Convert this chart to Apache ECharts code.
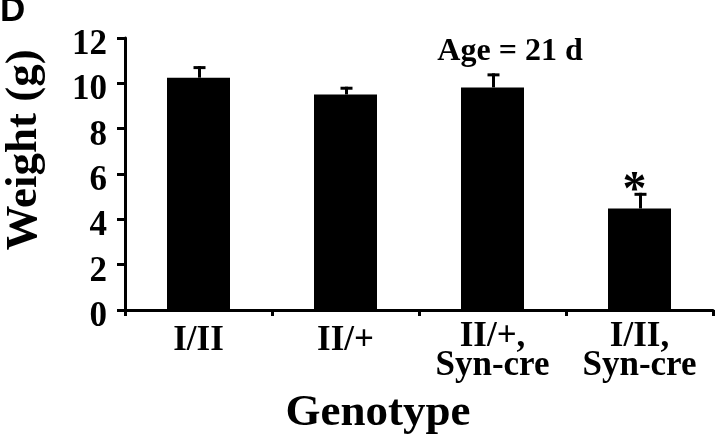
<!DOCTYPE html>
<html>
<head>
<meta charset="utf-8">
<script src="https://cdn.jsdelivr.net/npm/echarts@6/dist/echarts.min.js"></script>
<style>html,body{margin:0;padding:0;background:#fff}#c{width:720px;height:436px}</style>
</head>
<body>
<div id="c"></div>
<script>
var categories = ['I/II', 'II/+', 'II/+,\nSyn-cre', 'I/II,\nSyn-cre'];
var weights = [10.25, 9.51, 9.82, 4.48];
var errors = [0.51, 0.34, 0.62, 0.69];
var marks = ['', '', '', '*'];
var yTicks = [0, 2, 4, 6, 8, 10, 12];

var serif = '"Liberation Serif","Times New Roman",serif';
var txt = { color: '#000', fontFamily: serif, fontWeight: 'bold' };
function xLabel(v) {
  if (v.indexOf('\n') < 0) return '{s|' + v + '}';
  return v.split('\n').map(function (l) { return '{m|' + l + '}'; }).join('\n');
}
var chart = echarts.init(document.getElementById('c'));
chart.setOption({
  animation: false,
  backgroundColor: '#fff',
  grid: { left: 125, right: 7, top: 38, bottom: 126, containLabel: false },
  xAxis: {
    type: 'category',
    data: categories,
    axisLine: { lineStyle: { color: '#000', width: 3 } },
    axisTick: { show: true, length: 6, lineStyle: { color: '#000', width: 3 } },
    axisLabel: {
      interval: 0, hideOverlap: false,
      color: '#000', fontFamily: serif, fontWeight: 'bold', fontSize: 35, lineHeight: 29, margin: 12,
      formatter: xLabel,
      rich: {
        s: Object.assign({ fontSize: 35, lineHeight: 29, padding: [9, 0, 0, 0] }, txt),
        m: Object.assign({ fontSize: 35, lineHeight: 29 }, txt)
      }
    }
  },
  yAxis: {
    type: 'value', min: yTicks[0], max: yTicks[yTicks.length - 1], interval: 2,
    splitLine: { show: false },
    axisLine: { show: true, lineStyle: { color: '#000', width: 3 } },
    axisTick: { show: true, length: 8, lineStyle: { color: '#000', width: 3 } },
    axisLabel: {
      color: '#000', fontFamily: serif, fontWeight: 'bold', fontSize: 35, margin: 18,
      formatter: '{v|{value}}',
      rich: { v: Object.assign({ fontSize: 35, padding: [14, 0, 0, 0] }, txt) }
    }
  },
  series: [
    {
      type: 'bar', data: weights, barWidth: 63,
      itemStyle: { color: '#000' }
    },
    {
      type: 'custom',
      data: weights.map(function (v, i) { return [i, v, errors[i]]; }),
      z: 5,
      renderItem: function (params, api) {
        var i = api.value(0), v = api.value(1), e = api.value(2);
        var base = api.coord([i, v]);
        var top = api.coord([i, v + e]);
        var x = base[0] + 1;
        var children = [
          { type: 'line', shape: { x1: x, y1: base[1], x2: x, y2: top[1] }, style: { stroke: '#000', lineWidth: 3 } },
          { type: 'line', shape: { x1: x - 6, y1: top[1] + 1.5, x2: x + 6, y2: top[1] + 1.5 }, style: { stroke: '#000', lineWidth: 3 } }
        ];
        var m = marks[params.dataIndex];
        if (m) {
          children.push({ type: 'text', style: { text: m, x: x - 6, y: top[1] - 1, align: 'center', verticalAlign: 'middle', font: 'bold 48px ' + serif, fill: '#000' } });
        }
        return { type: 'group', children: children };
      }
    }
  ],
  graphic: [
    { type: 'text', left: 0, top: -6, style: { text: 'D', font: 'bold 35px "Liberation Sans",Arial,sans-serif', fill: '#000' } },
    { type: 'text', x: 24, y: 150, rotation: Math.PI / 2, style: { text: 'Weight (g)', font: 'bold 45px ' + serif, fill: '#000', align: 'center', verticalAlign: 'middle' } },
    { type: 'text', x: 378, y: 413, style: { text: 'Genotype', font: 'bold 45px ' + serif, fill: '#000', align: 'center', verticalAlign: 'middle' } },
    { type: 'text', x: 510, y: 52, style: { text: 'Age = 21 d', font: 'bold 32px ' + serif, fill: '#000', align: 'center', verticalAlign: 'middle' } }
  ]
});
</script>
</body>
</html>
